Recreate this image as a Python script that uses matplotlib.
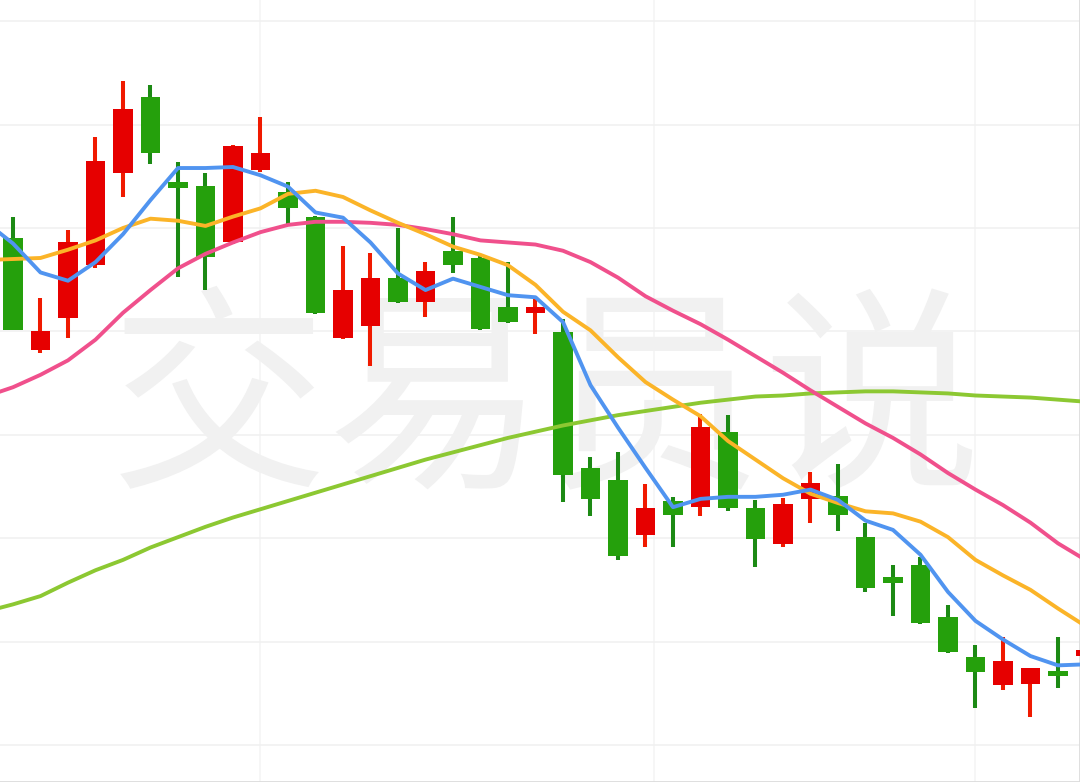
import matplotlib
matplotlib.use('Agg')
import matplotlib.pyplot as plt
import numpy as np

# K线数据 (开, 高, 低, 收)
opens = [14.90, 13.82, 14.13, 14.64, 15.53, 16.27, 15.44, 15.41, 14.86, 15.56,
         15.35, 15.11, 13.94, 14.05, 14.52, 14.28, 14.78, 14.71, 14.24, 14.18,
         13.99, 12.68, 12.56, 12.03, 12.36, 12.30, 13.03, 12.29, 11.94, 12.38,
         12.41, 12.01, 11.62, 11.74, 11.24, 10.85, 10.58, 10.59, 10.70, 10.86]
highs = [15.11, 14.32, 14.98, 15.88, 16.42, 16.38, 15.64, 15.53, 15.80, 16.07,
         15.44, 15.12, 14.83, 14.76, 15.00, 14.67, 15.11, 14.75, 14.67, 14.32,
         14.12, 12.79, 12.83, 12.52, 12.40, 13.20, 13.19, 12.37, 12.39, 12.64,
         12.72, 12.15, 11.74, 11.82, 11.35, 10.97, 11.04, 10.74, 11.04, 10.97]
lows = [14.01, 13.79, 13.94, 14.61, 15.30, 15.62, 14.53, 14.40, 14.85, 15.54,
        15.03, 14.17, 13.93, 13.67, 14.27, 14.14, 14.56, 14.01, 14.08, 13.97,
        12.35, 12.21, 11.79, 11.91, 11.91, 12.21, 12.26, 11.72, 11.91, 12.15,
        12.07, 11.48, 11.25, 11.17, 10.89, 10.36, 10.53, 10.27, 10.55, 10.80]
closes = [14.01, 14.00, 14.86, 15.65, 16.15, 15.73, 15.39, 14.72, 15.79, 15.73,
          15.19, 14.18, 14.40, 14.52, 14.28, 14.58, 14.64, 14.02, 14.09, 14.24,
          12.61, 12.38, 11.83, 12.29, 12.22, 13.08, 12.29, 11.99, 12.33, 12.53,
          12.22, 11.52, 11.57, 11.18, 10.90, 10.71, 10.81, 10.74, 10.67, 10.92]

# 均线 (从 -1 开始, 左边一根在画面外)
ma5 = [15.06, 14.85, 14.57, 14.49, 14.67, 14.94, 15.27, 15.58, 15.58, 15.59,
       15.51, 15.40, 15.15, 15.10, 14.86, 14.56, 14.40, 14.51, 14.43, 14.35,
       14.33, 14.09, 13.48, 13.07, 12.68, 12.30, 12.38, 12.40, 12.40, 12.42,
       12.47, 12.37, 12.17, 12.08, 11.84, 11.48, 11.20, 11.02, 10.86, 10.77, 10.78]
ma10 = [14.69, 14.70, 14.71, 14.79, 14.88, 15.00, 15.09, 15.07, 15.02, 15.11,
        15.19, 15.33, 15.36, 15.30, 15.17, 15.05, 14.94, 14.82, 14.74, 14.64,
        14.45, 14.19, 14.01, 13.75, 13.51, 13.34, 13.18, 12.94, 12.76, 12.58,
        12.43, 12.34, 12.26, 12.24, 12.16, 12.01, 11.79, 11.64, 11.50, 11.32, 11.15]
ma20 = [13.37, 13.46, 13.58, 13.72, 13.92, 14.18, 14.40, 14.61, 14.75, 14.86,
        14.96, 15.03, 15.06, 15.06, 15.05, 15.03, 14.99, 14.94, 14.88, 14.86,
        14.84, 14.78, 14.67, 14.52, 14.34, 14.20, 14.07, 13.92, 13.76, 13.60,
        13.43, 13.27, 13.11, 12.97, 12.81, 12.63, 12.47, 12.32, 12.15, 11.95, 11.79]
ma60 = [11.29, 11.36, 11.44, 11.57, 11.69, 11.79, 11.91, 12.01, 12.11, 12.20,
        12.28, 12.36, 12.44, 12.52, 12.60, 12.68, 12.76, 12.83, 12.90, 12.97,
        13.03, 13.09, 13.14, 13.19, 13.23, 13.27, 13.31, 13.34, 13.37, 13.38,
        13.40, 13.41, 13.42, 13.42, 13.41, 13.40, 13.38, 13.37, 13.36, 13.34, 13.32]

price_grid = list(range(10, 18))
month_lines = [9, 23.3, 35]
watermark = '交易员说'

fig = plt.figure(figsize=(10.8, 7.82), dpi=100)
ax = fig.add_axes([0, 0, 1, 1])

x = np.arange(len(opens))
o = np.array(opens)
c = np.array(closes)
up = c >= o
body_col = np.where(up, '#e60000', '#25a00c')
wick_col = np.where(up, '#f01a00', '#1c8a14')

ax.vlines(x, lows, highs, colors=wick_col, linewidth=2.9, zorder=2)
bottom = np.minimum(o, c)
height = np.maximum(np.abs(c - o), 0.05)
ax.bar(x, height, bottom=bottom, width=0.727, color=body_col, zorder=3)

mx = np.arange(-1, len(ma5) - 1)
ax.plot(mx, ma60, color='#8cc832', lw=2.8, zorder=4, solid_capstyle='round')
ax.plot(mx, ma20, color='#f0508c', lw=2.8, zorder=4, solid_capstyle='round')
ax.plot(mx, ma10, color='#fbb428', lw=2.8, zorder=4, solid_capstyle='round')
ax.plot(mx, ma5, color='#5094f0', lw=2.8, zorder=5, solid_capstyle='round')

ax.text(0.505, 0.478, watermark, transform=ax.transAxes, ha='center', va='center',
        fontsize=157, color='#f1f1f1', family=['Noto Sans CJK SC', 'DejaVu Sans'],
        fontweight='light', zorder=1)

ax.set_yticks(price_grid)
ax.grid(axis='y', color='#f1f1f1', lw=1.2, zorder=0)
for v in month_lines:
    ax.axvline(v, color='#f5f5f5', lw=1.2, zorder=0)

ax.set_xlim(-0.4727, 38.8)
ax.set_ylim(9.642, 17.205)
ax.tick_params(length=0, labelleft=False, labelbottom=False)
for s in ['left', 'top']:
    ax.spines[s].set_visible(False)
for s in ['bottom', 'right']:
    ax.spines[s].set_color('#dcdcdc')
    ax.spines[s].set_linewidth(2)

fig.savefig('out.png', dpi=100, facecolor='white')
